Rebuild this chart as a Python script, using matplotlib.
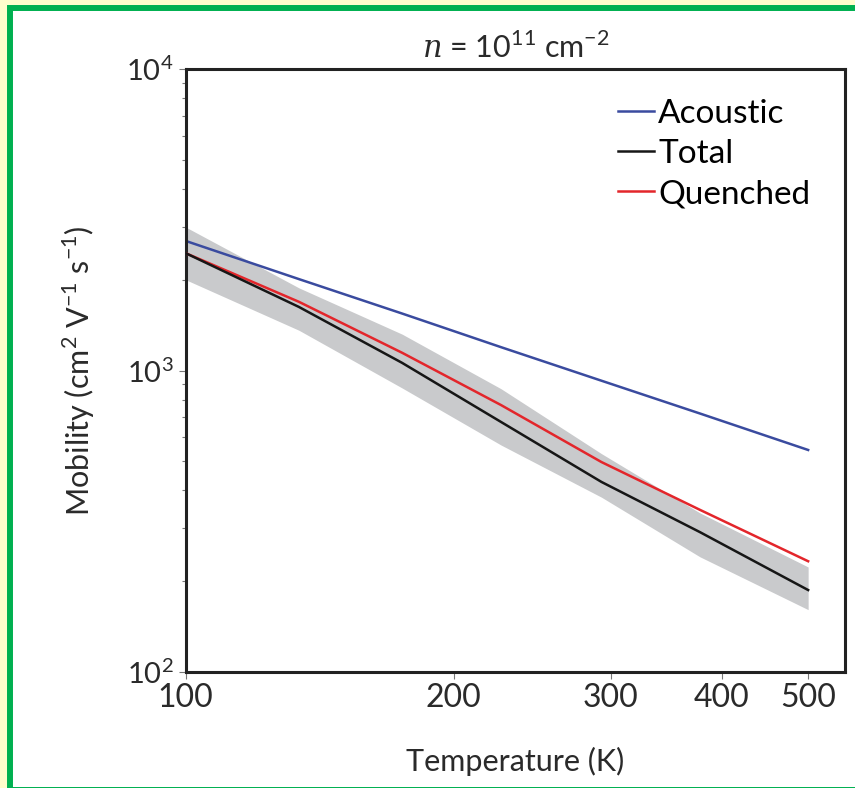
import matplotlib
matplotlib.use("Agg")
import matplotlib.pyplot as plt
from matplotlib.patches import Rectangle
from matplotlib.ticker import FixedLocator, NullLocator, LogLocator

plt.rcParams["font.family"] = ["Lato", "DejaVu Sans"]
plt.rcParams["mathtext.fontset"] = "custom"
plt.rcParams["mathtext.rm"] = "Lato"
plt.rcParams["mathtext.it"] = "DejaVu Serif:italic"

temps = [100, 134, 175, 226, 293, 378, 500]

acoustic = [2690, 2010, 1545, 1195, 925, 720, 545]
total = [2450, 1625, 1060, 675, 427, 291, 187]
quenched = [2450, 1690, 1145, 768, 497, 345, 233]
band_lo = [2000, 1360, 875, 566, 380, 241, 161]
band_hi = [2990, 1880, 1320, 870, 530, 337, 223]

xticks = [100, 200, 300, 400, 500]
xtick_labels = ["100", "200", "300", "400", "500"]

fig = plt.figure(figsize=(8.55, 7.88), dpi=100)
fig.patch.set_facecolor("#fffdcc")

# green frame round the panel
frame = Rectangle((9.5 / 855, -2 / 788), 1.05, 1 - 6 / 788, transform=fig.transFigure,
                  facecolor="white", edgecolor="#00b050", linewidth=4.3, zorder=-1)
fig.add_artist(frame)

ax = fig.add_axes([185.7 / 855, 116 / 788, 659.3 / 855, 603 / 788])
ax.set_facecolor("white")

ax.fill_between(temps, band_lo, band_hi, color="#c9cacc", linewidth=0)
ax.plot(temps, acoustic, color="#3a4b9f", linewidth=1.8, label="Acoustic")
ax.plot(temps, quenched, color="#e3262b", linewidth=1.8, zorder=3, label="Quenched")
ax.plot(temps, total, color="#161616", linewidth=1.8, zorder=4, label="Total")

ax.set_xscale("log")
ax.set_yscale("log")
ax.set_xlim(100, 550)
ax.set_ylim(100, 10000)

ax.xaxis.set_major_locator(FixedLocator(xticks))
ax.xaxis.set_minor_locator(NullLocator())
ax.set_xticklabels(xtick_labels)
ax.yaxis.set_major_locator(LogLocator(base=10))
ax.yaxis.set_minor_locator(LogLocator(base=10, subs=range(2, 10)))

for s in ax.spines.values():
    s.set_linewidth(2.2)
    s.set_color("#222222")

ax.tick_params(which="both", direction="out", color="#777777", width=0.8)
ax.tick_params(which="major", length=5)
ax.tick_params(which="minor", length=3)
ax.tick_params(axis="x", labelsize=23, labelcolor="#2a2a2a", pad=3)
ax.tick_params(axis="y", labelsize=21, labelcolor="#2a2a2a", pad=4)

ax.set_xlabel("Temperature (K)", fontsize=22, color="#2a2a2a")
ax.set_ylabel(r"Mobility (cm$^2$ V$^{-1}$ s$^{-1}$)", fontsize=22, color="#2a2a2a")
ax.xaxis.set_label_coords(0.5, -0.125)
ax.yaxis.set_label_coords(-0.135, 0.5)
ax.set_title(r"$n$ = 10$^{11}$ cm$^{-2}$", fontsize=22, color="#2a2a2a", pad=8)

handles, labels = ax.get_legend_handles_labels()
order = [0, 2, 1]
ax.legend([handles[i] for i in order], [labels[i] for i in order],
          loc="upper left", bbox_to_anchor=(0.655, 0.95), frameon=False,
          fontsize=24, handlelength=1.1, handletextpad=0.12, labelspacing=0.3,
          borderpad=0, borderaxespad=0)

fig.savefig("out.png", dpi=100, facecolor=fig.get_facecolor())
